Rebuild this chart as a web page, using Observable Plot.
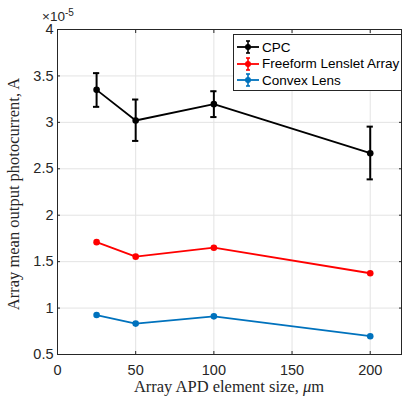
<!DOCTYPE html>
<html><head><meta charset="utf-8">
<script src="https://cdn.jsdelivr.net/npm/d3@7"></script>
<script src="https://cdn.jsdelivr.net/npm/@observablehq/plot@0.6"></script>
<style>
body{margin:0;background:#fff;}
#wrap{position:relative;width:404px;height:401px;overflow:hidden;}
#legend{position:absolute;left:233px;top:34px;width:167px;height:55px;border:1px solid #262626;background:#fff;font-family:"Liberation Sans",Arial,sans-serif;font-size:13.5px;color:#000;}
.li{position:absolute;left:2px;height:16px;display:flex;align-items:center;}
.li svg{margin-right:2px;}
</style></head><body><div id="wrap"></div>
<script>
const sizes = [25, 50, 100, 200];
const cpc = [3.35, 3.02, 3.196, 2.668];
const cpcLo = [3.167, 2.80, 3.057, 2.386];
const cpcHi = [3.53, 3.246, 3.335, 2.954];
const freeform = [1.71, 1.554, 1.65, 1.375];
const convex = [0.925, 0.833, 0.911, 0.697];
const seriesNames = ["CPC", "Freeform Lenslet Array", "Convex Lens"];
const seriesColors = ["#000000", "#ff0000", "#0072bd"];
const xTicks = [0, 50, 100, 150, 200];
const yTicks = [0.5, 1, 1.5, 2, 2.5, 3, 3.5, 4];
const xLabel = "Array APD element size, ";
const yLabel = "Array mean output photocurrent, A";

const seriesVals = [cpc, freeform, convex];
const rows = [];
seriesVals.forEach((vals, k) => sizes.forEach((s, i) => rows.push({x: s, y: vals[i], s: seriesNames[k]})));
const errRows = sizes.map((s, i) => ({x: s, lo: cpcLo[i], hi: cpcHi[i]}));
const capHalf = 2;
const axisCol = "#262626";

const plot = Plot.plot({
  width: 404, height: 401,
  marginLeft: 57, marginRight: 3, marginTop: 29, marginBottom: 47,
  style: {fontFamily: "Liberation Sans, Arial, sans-serif", fontSize: "14.5px", color: axisCol, background: "#fff"},
  x: {domain: [0, 220]},
  y: {domain: [0.5, 4]},
  color: {domain: seriesNames, range: seriesColors},
  marks: [
    Plot.gridX(xTicks, {stroke: "#e3e3e3", strokeOpacity: 1}),
    Plot.gridY(yTicks, {stroke: "#e3e3e3", strokeOpacity: 1}),
    Plot.frame({stroke: axisCol}),
    Plot.axisX({ticks: xTicks, tickSize: -3, tickPadding: 13, label: null, tickFormat: d3.format("d")}),
    Plot.axisX({anchor: "top", ticks: xTicks, tickSize: -3, tickFormat: () => "", label: null}),
    Plot.axisY({ticks: yTicks, tickSize: -3, tickPadding: 7, label: null, tickFormat: d => String(d)}),
    Plot.axisY({anchor: "right", ticks: yTicks, tickSize: -3, tickFormat: () => "", label: null}),
    Plot.line(rows, {x: "x", y: "y", z: "s", stroke: "s", strokeWidth: 1.8}),
    Plot.ruleX(errRows, {x: "x", y1: "lo", y2: "hi", stroke: "#000", strokeWidth: 2}),
    Plot.ruleY(errRows, {y: "lo", x1: d => d.x - capHalf, x2: d => d.x + capHalf, stroke: "#000", strokeWidth: 2}),
    Plot.ruleY(errRows, {y: "hi", x1: d => d.x - capHalf, x2: d => d.x + capHalf, stroke: "#000", strokeWidth: 2}),
    Plot.dot(rows, {x: "x", y: "y", fill: "s", r: 3.3})
  ]
});
const wrap = document.getElementById("wrap");
wrap.appendChild(plot);

const svg = d3.select(plot);
const serif = "Liberation Serif, serif";
svg.append("text").attr("transform", "translate(19,194) rotate(-90)").attr("text-anchor", "middle")
  .attr("font-family", serif).attr("font-size", 16.5).attr("fill", axisCol).text(yLabel);
const xl = svg.append("text").attr("x", 229).attr("y", 392).attr("text-anchor", "middle")
  .attr("font-family", serif).attr("font-size", 16.5).attr("fill", axisCol);
xl.append("tspan").text(xLabel);
xl.append("tspan").attr("font-style", "italic").text("μ");
xl.append("tspan").text("m");
const ex = svg.append("text").attr("x", 58).attr("y", 21).attr("font-size", 13.5).attr("fill", axisCol);
ex.append("tspan").text("×10");
ex.append("tspan").attr("font-size", 10).attr("dy", -5).text("-5");

const leg = document.createElement("div"); leg.id = "legend";
seriesNames.forEach((n, k) => {
  const it = document.createElement("div"); it.className = "li"; it.style.top = (4 + k*16.5) + "px";
  const c = seriesColors[k];
  it.innerHTML = `<svg width="24" height="16"><line x1="1" y1="8" x2="23" y2="8" stroke="${c}" stroke-width="1.8"/><line x1="12" y1="2" x2="12" y2="14" stroke="${c}" stroke-width="1.6"/><line x1="10" y1="2" x2="14" y2="2" stroke="${c}" stroke-width="1.6"/><line x1="10" y1="14" x2="14" y2="14" stroke="${c}" stroke-width="1.6"/><circle cx="12" cy="8" r="3" fill="${c}"/></svg><span>${n}</span>`;
  leg.appendChild(it);
});
wrap.appendChild(leg);
</script>
</body></html>
